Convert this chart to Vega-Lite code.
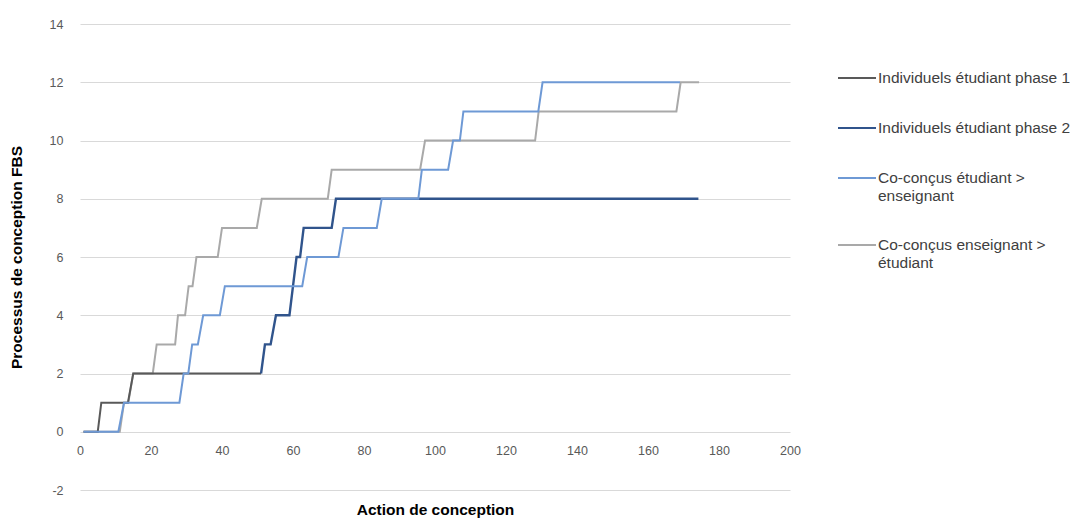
{
  "$schema": "https://vega.github.io/schema/vega-lite/v6.json",
  "width": 710,
  "height": 466,
  "autosize": {"type": "none"},
  "padding": {"left": 80, "top": 24, "right": 288, "bottom": 29},
  "background": "white",
  "config": {
    "view": {"stroke": null},
    "font": "Liberation Sans",
    "axis": {"labelFont": "Liberation Sans Narrow, Liberation Sans, sans-serif", "labelColor": "#595959", "labelFontSize": 12.5, "titleFont": "Liberation Sans", "titleFontWeight": "bold", "titleFontSize": 15.5, "titleColor": "#000000"}
  },
  "datasets": {
    "pts": [
      {"s": "Individuels étudiant phase 1", "x": 1, "y": 0},
      {"s": "Individuels étudiant phase 1", "x": 5, "y": 0},
      {"s": "Individuels étudiant phase 1", "x": 6, "y": 1},
      {"s": "Individuels étudiant phase 1", "x": 13.5, "y": 1},
      {"s": "Individuels étudiant phase 1", "x": 15, "y": 2},
      {"s": "Individuels étudiant phase 1", "x": 51, "y": 2},
      {"s": "Individuels étudiant phase 2", "x": 51, "y": 2},
      {"s": "Individuels étudiant phase 2", "x": 52.1, "y": 3},
      {"s": "Individuels étudiant phase 2", "x": 53.7, "y": 3},
      {"s": "Individuels étudiant phase 2", "x": 55.2, "y": 4},
      {"s": "Individuels étudiant phase 2", "x": 59, "y": 4},
      {"s": "Individuels étudiant phase 2", "x": 60, "y": 5},
      {"s": "Individuels étudiant phase 2", "x": 61, "y": 6},
      {"s": "Individuels étudiant phase 2", "x": 62, "y": 6},
      {"s": "Individuels étudiant phase 2", "x": 63, "y": 7},
      {"s": "Individuels étudiant phase 2", "x": 70.9, "y": 7},
      {"s": "Individuels étudiant phase 2", "x": 72.1, "y": 8},
      {"s": "Individuels étudiant phase 2", "x": 174.2, "y": 8},
      {"s": "Co-conçus étudiant > enseignant", "x": 1, "y": 0},
      {"s": "Co-conçus étudiant > enseignant", "x": 10.8, "y": 0},
      {"s": "Co-conçus étudiant > enseignant", "x": 12.4, "y": 1},
      {"s": "Co-conçus étudiant > enseignant", "x": 28, "y": 1},
      {"s": "Co-conçus étudiant > enseignant", "x": 29.2, "y": 2},
      {"s": "Co-conçus étudiant > enseignant", "x": 30.5, "y": 2},
      {"s": "Co-conçus étudiant > enseignant", "x": 31.6, "y": 3},
      {"s": "Co-conçus étudiant > enseignant", "x": 33.2, "y": 3},
      {"s": "Co-conçus étudiant > enseignant", "x": 34.7, "y": 4},
      {"s": "Co-conçus étudiant > enseignant", "x": 39.4, "y": 4},
      {"s": "Co-conçus étudiant > enseignant", "x": 40.8, "y": 5},
      {"s": "Co-conçus étudiant > enseignant", "x": 62.6, "y": 5},
      {"s": "Co-conçus étudiant > enseignant", "x": 64, "y": 6},
      {"s": "Co-conçus étudiant > enseignant", "x": 72.8, "y": 6},
      {"s": "Co-conçus étudiant > enseignant", "x": 74.2, "y": 7},
      {"s": "Co-conçus étudiant > enseignant", "x": 83.6, "y": 7},
      {"s": "Co-conçus étudiant > enseignant", "x": 85, "y": 8},
      {"s": "Co-conçus étudiant > enseignant", "x": 95.3, "y": 8},
      {"s": "Co-conçus étudiant > enseignant", "x": 96.3, "y": 9},
      {"s": "Co-conçus étudiant > enseignant", "x": 103.7, "y": 9},
      {"s": "Co-conçus étudiant > enseignant", "x": 105.1, "y": 10},
      {"s": "Co-conçus étudiant > enseignant", "x": 107, "y": 10},
      {"s": "Co-conçus étudiant > enseignant", "x": 108, "y": 11},
      {"s": "Co-conçus étudiant > enseignant", "x": 129.1, "y": 11},
      {"s": "Co-conçus étudiant > enseignant", "x": 130.3, "y": 12},
      {"s": "Co-conçus étudiant > enseignant", "x": 169, "y": 12},
      {"s": "Co-conçus enseignant > étudiant", "x": 1, "y": 0},
      {"s": "Co-conçus enseignant > étudiant", "x": 11.2, "y": 0},
      {"s": "Co-conçus enseignant > étudiant", "x": 12.4, "y": 1},
      {"s": "Co-conçus enseignant > étudiant", "x": 13.6, "y": 1},
      {"s": "Co-conçus enseignant > étudiant", "x": 15, "y": 2},
      {"s": "Co-conçus enseignant > étudiant", "x": 20.5, "y": 2},
      {"s": "Co-conçus enseignant > étudiant", "x": 21.6, "y": 3},
      {"s": "Co-conçus enseignant > étudiant", "x": 26.8, "y": 3},
      {"s": "Co-conçus enseignant > étudiant", "x": 27.6, "y": 4},
      {"s": "Co-conçus enseignant > étudiant", "x": 29.6, "y": 4},
      {"s": "Co-conçus enseignant > étudiant", "x": 30.6, "y": 5},
      {"s": "Co-conçus enseignant > étudiant", "x": 31.7, "y": 5},
      {"s": "Co-conçus enseignant > étudiant", "x": 32.8, "y": 6},
      {"s": "Co-conçus enseignant > étudiant", "x": 38.8, "y": 6},
      {"s": "Co-conçus enseignant > étudiant", "x": 40, "y": 7},
      {"s": "Co-conçus enseignant > étudiant", "x": 49.8, "y": 7},
      {"s": "Co-conçus enseignant > étudiant", "x": 51.2, "y": 8},
      {"s": "Co-conçus enseignant > étudiant", "x": 69.8, "y": 8},
      {"s": "Co-conçus enseignant > étudiant", "x": 70.9, "y": 9},
      {"s": "Co-conçus enseignant > étudiant", "x": 95.8, "y": 9},
      {"s": "Co-conçus enseignant > étudiant", "x": 97.2, "y": 10},
      {"s": "Co-conçus enseignant > étudiant", "x": 128.2, "y": 10},
      {"s": "Co-conçus enseignant > étudiant", "x": 129.2, "y": 11},
      {"s": "Co-conçus enseignant > étudiant", "x": 168, "y": 11},
      {"s": "Co-conçus enseignant > étudiant", "x": 169.2, "y": 12},
      {"s": "Co-conçus enseignant > étudiant", "x": 174.4, "y": 12}
    ]
  },
  "data": {"name": "pts"},
  "encoding": {
    "x": {
      "field": "x", "type": "quantitative",
      "scale": {"domain": [0, 200], "nice": false, "zero": false},
      "axis": {"title": "Action de conception", "values": [0, 20, 40, 60, 80, 100, 120, 140, 160, 180, 200], "grid": false, "ticks": false, "domain": false, "offset": -58.25, "labelPadding": 13, "titleY": 71, "labelFlush": false}
    },
    "y": {
      "field": "y", "type": "quantitative",
      "scale": {"domain": [-2, 14], "nice": false, "zero": false},
      "axis": {"title": "Processus de conception FBS", "values": [-2, 0, 2, 4, 6, 8, 10, 12, 14], "labelExpr": "'' + datum.value", "grid": true, "gridColor": "#d9d9d9", "gridWidth": 1.2, "ticks": false, "domain": false, "labelPadding": 17, "titleX": -56, "titleY": 233}
    },
    "color": {
      "field": "s", "type": "nominal",
      "scale": {
        "domain": ["Individuels étudiant phase 1", "Individuels étudiant phase 2", "Co-conçus étudiant > enseignant", "Co-conçus enseignant > étudiant"],
        "range": ["#595959", "#30548c", "#6e99d5", "#a9a9a9"]
      },
      "legend": {
        "title": null,
        "orient": "none",
        "legendX": 757,
        "legendY": 34,
        "symbolType": "stroke",
        "symbolSize": 1444,
        "symbolStrokeWidth": 2,
        "labelFontSize": 15.5,
        "labelColor": "#404040",
        "labelFont": "Liberation Sans",
        "labelOffset": 1,
        "labelLimit": 300,
        "rowPadding": 21,
        "labelBaseline": "middle",
        "labelExpr": "datum.label == 'Co-conçus étudiant > enseignant' ? ['Co-conçus étudiant >', 'enseignant'] : datum.label == 'Co-conçus enseignant > étudiant' ? ['Co-conçus enseignant >', 'étudiant'] : datum.label"
      }
    }
  },
  "layer": [
    {"transform": [{"filter": "datum.s == 'Co-conçus enseignant > étudiant'"}], "mark": {"type": "line", "strokeWidth": 2}},
    {"transform": [{"filter": "datum.s == 'Individuels étudiant phase 1'"}], "mark": {"type": "line", "strokeWidth": 2}},
    {"transform": [{"filter": "datum.s == 'Individuels étudiant phase 2'"}], "mark": {"type": "line", "strokeWidth": 2.4}},
    {"transform": [{"filter": "datum.s == 'Co-conçus étudiant > enseignant'"}], "mark": {"type": "line", "strokeWidth": 2}}
  ]
}
